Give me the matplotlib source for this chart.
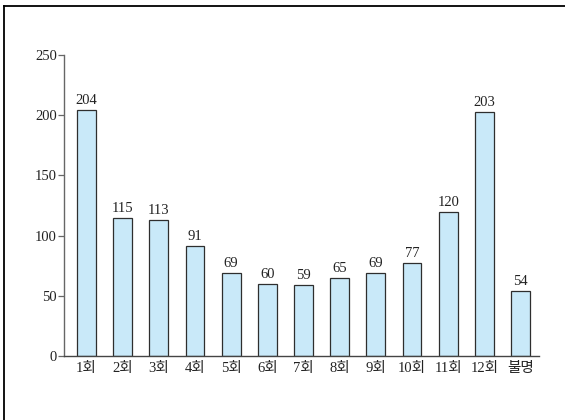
import matplotlib.pyplot as plt
from matplotlib.lines import Line2D

plt.rcParams['font.family'] = ['Liberation Serif', 'Noto Sans CJK KR']

categories = ['1회', '2회', '3회', '4회', '5회', '6회', '7회', '8회', '9회',
              '10회', '11회', '12회', '불명']
counts = [204, 115, 113, 91, 69, 60, 59, 65, 69, 77, 120, 203, 54]
yticks = [0, 50, 100, 150, 200, 250]

fig = plt.figure(figsize=(5.65, 4.2), dpi=100)
ax = fig.add_axes([0.1133, 0.1524, 0.954 - 0.1133, 0.869 - 0.1524])

x = range(len(categories))
bars = ax.bar(x, counts, width=0.52, color='#c9e9f9', edgecolor='#2e2e2e',
              linewidth=0.9)

for b, v in zip(bars, counts):
    ax.text(b.get_x() + b.get_width() / 2, v + 2.5, str(v),
            ha='center', va='bottom', fontsize=10.5, color='#222222')

ax.set_xlim(-0.62, 12.51)
ax.set_ylim(0, 250)
ax.set_yticks(yticks)
ax.set_xticks(list(x))
ax.set_xticklabels(categories, fontsize=10.5, color='#222222')
ax.tick_params(axis='x', length=0, pad=4)
ax.tick_params(axis='y', length=4, width=0.9, color='#666666',
               labelsize=10.5, labelcolor='#222222', pad=1)

for s in ['top', 'right']:
    ax.spines[s].set_visible(False)
ax.spines['left'].set_color('#666666')
ax.spines['bottom'].set_color('#444444')
ax.spines['left'].set_linewidth(1.0)
ax.spines['bottom'].set_linewidth(1.0)

# frame lines around the figure (top and left only visible)
fig.add_artist(Line2D([4 / 565, 1], [1 - 6 / 420, 1 - 6 / 420],
                      transform=fig.transFigure, color='black', linewidth=1.3))
fig.add_artist(Line2D([4 / 565, 4 / 565], [0, 1 - 6 / 420],
                      transform=fig.transFigure, color='black', linewidth=1.3))

fig.savefig('out.png', dpi=100)
